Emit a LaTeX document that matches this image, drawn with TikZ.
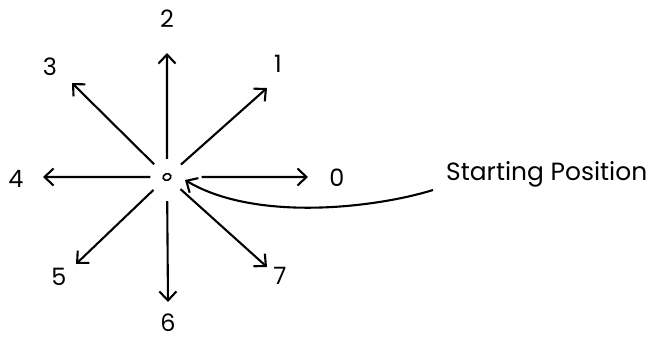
\documentclass[tikz,border=0pt]{standalone}
\usepackage{fontspec}
\setmainfont{Poppins}
\usetikzlibrary{arrows.meta, shapes.geometric, positioning}

\begin{document}
\begin{tikzpicture}[x=1bp, y=1bp, >={Straight Barb[length=9bp, width=17bp]},
    ray/.style={->, line width=2.1bp, shorten <=14bp},
    digit/.style={font=\fontsize{24}{24}\selectfont, inner sep=0pt}]

  \useasboundingbox (0,0) rectangle (651,340);

  \node[ellipse, draw, line width=1.6bp, minimum width=8bp, minimum height=6.5bp,
        inner sep=0pt, rotate=20] (o) at (167,163) {};

  % tips of the rays
  \coordinate (t0) at (308,163);
  \coordinate (t1) at (267,252);
  \coordinate (t2) at (167,287);
  \coordinate (t3) at (72,257);
  \coordinate (t4) at (43,163);
  \coordinate (t5) at (76,76);
  \coordinate (t6) at (168,38);
  \coordinate (t7) at (267,73);

  \draw[ray, shorten <=30bp] (o) -- (t0);
  \draw[ray] (o) -- (t1);
  \draw[ray] (o) -- (t2);
  \draw[ray] (o) -- (t3);
  \draw[ray, shorten <=12bp] (o) -- (t4);
  \draw[ray] (o) -- (t5);
  \draw[ray, shorten <=20bp] (o) -- (t6);
  \draw[ray] (o) -- (t7);

  \node[digit] (l0) at (337,162) {0};
  \node[digit] (l1) at (278,276) {1};
  \node[digit] (l2) at (167,321) {2};
  \node[digit] (l3) at (50,273) {3};
  \node[digit] (l4) at (16,161) {4};
  \node[digit] (l5) at (59,63) {5};
  \node[digit] (l6) at (168,17) {6};
  \node[digit] (l7) at (280,64) {7};

  \node[font=\fontsize{25}{25}\selectfont, inner sep=0pt, anchor=west]
    (start) at (446,166) {Starting Position};

  \draw[->, line width=2.1bp]
    ([xshift=-13bp, yshift=-16bp]start.west) .. controls (375,132) and (255,118) ..
    ([xshift=18bp, yshift=-3bp]o.center);

\end{tikzpicture}
\end{document}
